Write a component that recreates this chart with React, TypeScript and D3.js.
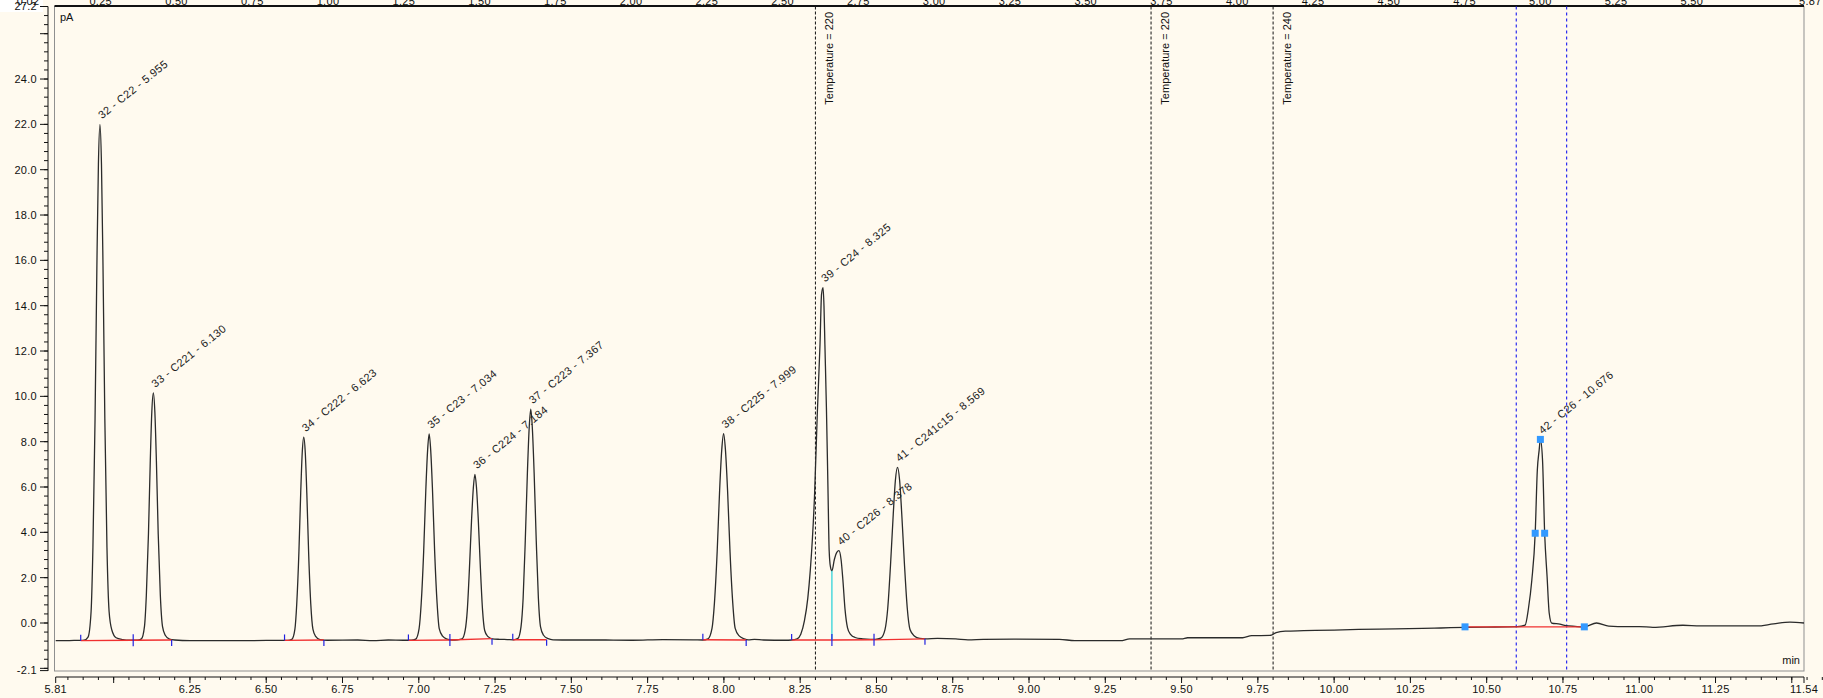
import React from "react";
import * as d3 from "d3";

// ---- chromatogram trace (retention time in min, signal in pA) ----
const traceTime = [
  5.81, 5.84, 5.87, 5.892,
  5.903, 5.916, 5.926, 5.932, 5.939, 5.945, 5.95, 5.955, 5.96, 5.965, 5.971, 5.978, 5.985, 5.994, 6.008, 6.03, 6.05, 6.066,
  6.078, 6.091, 6.101, 6.107, 6.114, 6.12, 6.125, 6.13, 6.135, 6.14, 6.146, 6.153, 6.16, 6.169, 6.183, 6.2, 6.25, 6.4, 6.5, 6.56,
  6.571, 6.584, 6.594, 6.6, 6.607, 6.613, 6.618, 6.623, 6.628, 6.633, 6.639, 6.646, 6.653, 6.662, 6.676, 6.7, 6.8, 6.85, 6.9, 6.95,
  6.975, 6.99, 7.001, 7.008, 7.016, 7.023, 7.029, 7.034, 7.039, 7.045, 7.052, 7.06, 7.067, 7.078, 7.093, 7.11,
  7.127, 7.142, 7.152, 7.159, 7.166, 7.173, 7.179, 7.184, 7.189, 7.195, 7.202, 7.209, 7.216, 7.226, 7.241, 7.265, 7.29,
  7.31, 7.325, 7.335, 7.342, 7.349, 7.356, 7.362, 7.367, 7.372, 7.378, 7.385, 7.392, 7.399, 7.409, 7.424, 7.44, 7.5, 7.6, 7.7, 7.8, 7.9,
  7.931, 7.948, 7.961, 7.969, 7.978, 7.986, 7.993, 7.999, 8.005, 8.012, 8.02, 8.029, 8.037, 8.05, 8.067, 8.08, 8.1, 8.13, 8.2,
  8.222, 8.24, 8.252, 8.264, 8.275, 8.283, 8.29, 8.297, 8.306, 8.315, 8.32, 8.325, 8.328, 8.331, 8.336, 8.341, 8.345, 8.349, 8.354,
  8.362, 8.37, 8.377, 8.384, 8.39, 8.397, 8.405, 8.415, 8.43, 8.455, 8.48,
  8.496, 8.514, 8.528, 8.537, 8.546, 8.555, 8.562, 8.569, 8.576, 8.583, 8.592, 8.601, 8.61, 8.624, 8.642,
  8.66, 8.7, 8.76, 8.8, 8.85, 8.95, 9.1, 9.15, 9.3, 9.33, 9.5, 9.52, 9.7, 9.73, 9.79, 9.81, 9.84, 9.9, 10.0, 10.08, 10.2, 10.29, 10.35, 10.43, 10.5, 10.6,
  10.626, 10.637, 10.648, 10.659, 10.666, 10.672, 10.676, 10.683, 10.69, 10.698, 10.705, 10.713, 10.74, 10.76, 10.79, 10.82,
  10.86, 10.9, 10.93, 11.0, 11.045, 11.143, 11.2, 11.385, 11.44, 11.494, 11.54,
];
const traceSignal = [
  -0.78, -0.78, -0.77, -0.77,
  -0.76, -0.62, 0.51, 3.34, 9.03, 15.76, 20.25, 22.0, 20.25, 15.76, 9.03, 3.34, 0.51, -0.31, -0.65, -0.73, -0.76, -0.76,
  -0.76, -0.7, -0.15, 1.2, 3.93, 7.16, 9.31, 10.15, 9.31, 7.16, 3.93, 1.2, -0.15, -0.54, -0.71, -0.75, -0.78, -0.78, -0.77, -0.77,
  -0.77, -0.72, -0.27, 0.84, 3.09, 5.74, 7.51, 8.2, 7.51, 5.74, 3.09, 0.84, -0.27, -0.59, -0.73, -0.76, -0.75, -0.78, -0.75, -0.76,
  -0.76, -0.71, -0.25, 0.88, 3.15, 5.85, 7.64, 8.34, 7.64, 5.85, 3.15, 0.88, -0.25, -0.58, -0.71, -0.75,
  -0.74, -0.7, -0.33, 0.57, 2.4, 4.56, 6.0, 6.56, 6.0, 4.56, 2.4, 0.57, -0.33, -0.59, -0.7, -0.72, -0.73,
  -0.74, -0.68, -0.17, 1.09, 3.63, 6.64, 8.65, 9.43, 8.65, 6.64, 3.63, 1.09, -0.17, -0.54, -0.69, -0.74, -0.75, -0.75, -0.76, -0.73, -0.74,
  -0.75, -0.7, -0.24, 0.89, 3.16, 5.86, 7.65, 8.35, 7.65, 5.86, 3.16, 0.89, -0.24, -0.57, -0.7, -0.74, -0.72, -0.75, -0.76,
  -0.75, -0.7, -0.5, 0.1, 1.1, 2.3, 3.7, 5.6, 9.2, 12.3, 14.5, 14.8, 14.0, 12.3, 9.5, 6.0, 3.2, 2.5, 2.3,
  2.8, 3.12, 3.19, 2.8, 1.9, 0.6, -0.2, -0.5, -0.64, -0.7, -0.72,
  -0.72, -0.67, -0.29, 0.65, 2.54, 4.79, 6.29, 6.87, 6.29, 4.79, 2.54, 0.65, -0.29, -0.57, -0.68,
  -0.7, -0.68, -0.7, -0.74, -0.72, -0.71, -0.72, -0.78, -0.78, -0.7, -0.7, -0.65, -0.65, -0.56, -0.55, -0.42, -0.36, -0.34, -0.31, -0.28, -0.26, -0.24, -0.22, -0.19, -0.18, -0.16,
  -0.09, 0.65, 1.9, 3.96, 6.75, 7.63, 8.1, 7.2, 3.96, 2.04, 0.43, 0.0, -0.05, -0.12, -0.15, -0.17,
  0.0, -0.14, -0.16, -0.16, -0.19, -0.1, -0.13, -0.13, -0.04, 0.04, 0.0,
];

// ---- identified peaks ----
const peakIds = [32, 33, 34, 35, 36, 37, 38, 39, 40, 41, 42];
const peakNames = ["C22", "C221", "C222", "C23", "C224", "C223", "C225", "C24", "C226", "C241c15", "C26"];
const peakTimes = [5.955, 6.13, 6.623, 7.034, 7.184, 7.367, 7.999, 8.325, 8.378, 8.569, 10.676];
const peakHeights = [22.0, 10.15, 8.2, 8.34, 6.56, 9.43, 8.35, 14.8, 3.19, 6.87, 8.1];

// ---- integration baselines ----
const integStart = [5.892, 6.064, 6.56, 6.966, 7.102, 7.308, 7.931, 8.222, 8.354, 8.492, 10.429];
const integEnd = [6.064, 6.19, 6.689, 7.102, 7.24, 7.419, 8.073, 8.354, 8.492, 8.659, 10.82];
const integStartLevel = [-0.78, -0.76, -0.77, -0.77, -0.75, -0.74, -0.74, -0.75, -0.75, -0.74, -0.17];
const integEndLevel = [-0.76, -0.75, -0.75, -0.75, -0.69, -0.74, -0.75, -0.75, -0.74, -0.7, -0.17];

// drop line between peaks 39 and 40
const dropTime = 8.354;
const dropTop = 2.3;
const dropBottom = -0.75;

// peak 42 markers (half height)
const halfTimes = [10.659, 10.69];
const halfLevel = 3.96;

// ---- events ----
const tempTimes = [8.3, 9.4, 9.8];
const tempLabels = ["Temperature = 220", "Temperature = 220", "Temperature = 240"];
const windowTimes = [10.597, 10.762];

// ---- axes ----
const xLabelTicks = [5.81, 6.25, 6.5, 6.75, 7.0, 7.25, 7.5, 7.75, 8.0, 8.25, 8.5, 8.75, 9.0, 9.25, 9.5, 9.75, 10.0, 10.25, 10.5, 10.75, 11.0, 11.25, 11.54];
const xExtraMajor = [6.0, 11.5];
const yLabelTicks = [-2.1, 0, 2, 4, 6, 8, 10, 12, 14, 16, 18, 20, 22, 24, 27.2];
const yExtraMajor = [-2, 26];
const topLabelTicks = [0.02, 0.25, 0.5, 0.75, 1.0, 1.25, 1.5, 1.75, 2.0, 2.25, 2.5, 2.75, 3.0, 3.25, 3.5, 3.75, 4.0, 4.25, 4.5, 4.75, 5.0, 5.25, 5.5, 5.87];

const FONT = "'Liberation Sans', Arial, sans-serif";
const BG = "#FFFAEF";

export default function App() {
  const W = 1823;
  const H = 698;
  const x = d3.scaleLinear().domain([5.81, 11.54]).range([55.7, 1804]);
  const y = d3.scaleLinear().domain([-2.1, 27.2]).range([670.6, 6.5]);
  const xt = d3.scaleLinear().domain([0.02, 5.87]).range([31, 1804]);

  const pts: [number, number][] = traceTime.map((t, i) => [t, traceSignal[i]]);
  const line = d3
    .line<[number, number]>()
    .x((d) => x(d[0]))
    .y((d) => y(d[1]))
    .curve(d3.curveMonotoneX);

  const xMinor = d3.range(117, 1151).map((i) => i / 20);
  const yMinor = d3.range(-5, 68).map((i) => i * 0.4);
  const fmtY = (v: number) => v.toFixed(1);
  const fmtX = (v: number) => v.toFixed(2);

  const plotL = 54.5, plotR = 1804, plotT = 6.5, plotB = 671;
  const axisY = 677;
  const axisX = 48;

  return (
    <div style={{ position: "absolute", left: 0, top: 0, width: W, height: H, overflow: "hidden" }}>
      <svg width={W} height={H} style={{ display: "block", fontFamily: FONT }}>
        <rect x={0} y={0} width={W} height={H} fill={BG} />
        <rect x={0} y={0} width={43} height={12} fill="#ffffff" />

        {/* frame */}
        <rect x={plotL} y={plotT} width={plotR - plotL} height={plotB - plotT} fill="none" stroke="#8f8f8f" strokeWidth={1} />
        <line x1={plotL} x2={plotR} y1={6} y2={6} stroke="#111" strokeWidth={2} />

        {/* temperature events */}
        {tempTimes.map((t, i) => (
          <g key={"temp" + i}>
            <line x1={x(t)} x2={x(t)} y1={plotT} y2={plotB} stroke="#111" strokeWidth={1} strokeDasharray="3,2" />
            <text
              transform={`translate(${x(t) + 18},${12}) rotate(-90)`}
              textAnchor="end"
              fontSize={11}
              fill="#111"
            >
              {tempLabels[i]}
            </text>
          </g>
        ))}

        {/* integration window lines */}
        {windowTimes.map((t, i) => (
          <line key={"win" + i} x1={x(t)} x2={x(t)} y1={plotT} y2={plotB} stroke="#2b2bf0" strokeWidth={1.2} strokeDasharray="3,3" />
        ))}

        {/* trace */}
        <path d={line(pts) || ""} fill="none" stroke="#2b2b2b" strokeWidth={1.3} strokeLinejoin="round" />

        {/* integration baselines */}
        {integStart.map((s, i) => (
          <line
            key={"base" + i}
            x1={x(s)}
            x2={x(integEnd[i])}
            y1={y(integStartLevel[i])}
            y2={y(integEndLevel[i])}
            stroke="#f03030"
            strokeWidth={1.3}
          />
        ))}

        {/* drop line */}
        <line x1={x(dropTime)} x2={x(dropTime)} y1={y(dropTop)} y2={y(dropBottom)} stroke="#22d0d8" strokeWidth={1.2} />

        {/* start / end tick marks */}
        {integStart.slice(0, 10).map((s, i) => (
          <g key={"tk" + i}>
            <line x1={x(s)} x2={x(s)} y1={y(integStartLevel[i]) - 6} y2={y(integStartLevel[i])} stroke="#2020e0" strokeWidth={1.2} />
            <line x1={x(integEnd[i])} x2={x(integEnd[i])} y1={y(integEndLevel[i])} y2={y(integEndLevel[i]) + 6} stroke="#2020e0" strokeWidth={1.2} />
          </g>
        ))}

        {/* peak 42 markers */}
        {[
          [integStart[10], integStartLevel[10]],
          [integEnd[10], integEndLevel[10]],
          [peakTimes[10], peakHeights[10]],
          [halfTimes[0], halfLevel],
          [halfTimes[1], halfLevel],
        ].map((p, i) => (
          <rect key={"sq" + i} x={x(p[0]) - 3.5} y={y(p[1]) - 3.5} width={7} height={7} fill="#3399ff" />
        ))}

        {/* peak labels */}
        {peakIds.map((id, i) => (
          <text
            key={"pk" + id}
            transform={`translate(${x(peakTimes[i]) + 2},${y(peakHeights[i]) - 5}) rotate(-39)`}
            fontSize={11}
            letterSpacing={0.4}
            fill="#222"
          >
            {`${id} - ${peakNames[i]} - ${peakTimes[i].toFixed(3)}`}
          </text>
        ))}

        {/* unit labels */}
        <text x={60} y={21} fontSize={11} fill="#111">pA</text>
        <text x={1800} y={664} fontSize={11} fill="#111" textAnchor="end">min</text>

        {/* left axis */}
        <line x1={axisX} x2={axisX} y1={plotT} y2={plotB} stroke="#111" strokeWidth={1} />
        {yMinor.map((v, i) => (
          <line key={"ym" + i} x1={axisX - 4} x2={axisX} y1={y(v)} y2={y(v)} stroke="#111" strokeWidth={1} />
        ))}
        {yLabelTicks.concat(yExtraMajor).map((v, i) => (
          <line key={"yM" + i} x1={axisX - 8} x2={axisX} y1={y(v)} y2={y(v)} stroke="#111" strokeWidth={1} />
        ))}
        {yLabelTicks.map((v, i) => (
          <text key={"yl" + i} x={37} y={y(v)} dy="0.35em" textAnchor="end" fontSize={11} letterSpacing={0.3} fill="#111">
            {fmtY(v)}
          </text>
        ))}

        {/* bottom axis */}
        <line x1={x(5.81)} x2={x(11.54)} y1={axisY} y2={axisY} stroke="#111" strokeWidth={1} />
        {xMinor.map((v, i) => (
          <line key={"xm" + i} x1={x(v)} x2={x(v)} y1={axisY} y2={axisY + 3} stroke="#111" strokeWidth={1} />
        ))}
        {xLabelTicks.concat(xExtraMajor).map((v, i) => (
          <line key={"xM" + i} x1={x(v)} x2={x(v)} y1={axisY} y2={axisY + 6} stroke="#111" strokeWidth={1} />
        ))}
        {xLabelTicks.map((v, i) => (
          <text key={"xl" + i} x={x(v)} y={693} textAnchor="middle" fontSize={11} letterSpacing={0.3} fill="#111">
            {fmtX(v)}
          </text>
        ))}

        {/* top axis labels (cut by the top edge, as in the original export) */}
        {topLabelTicks.map((v, i) => {
          const first = i === 0;
          const last = i === topLabelTicks.length - 1;
          return (
            <text
              key={"tl" + i}
              x={first ? 28 : last ? 1799 : xt(v)}
              y={5}
              textAnchor={last ? "start" : "middle"}
              fontSize={11}
              letterSpacing={0.3}
              fill="#111"
            >
              {fmtX(v)}
            </text>
          );
        })}
      </svg>
    </div>
  );
}
